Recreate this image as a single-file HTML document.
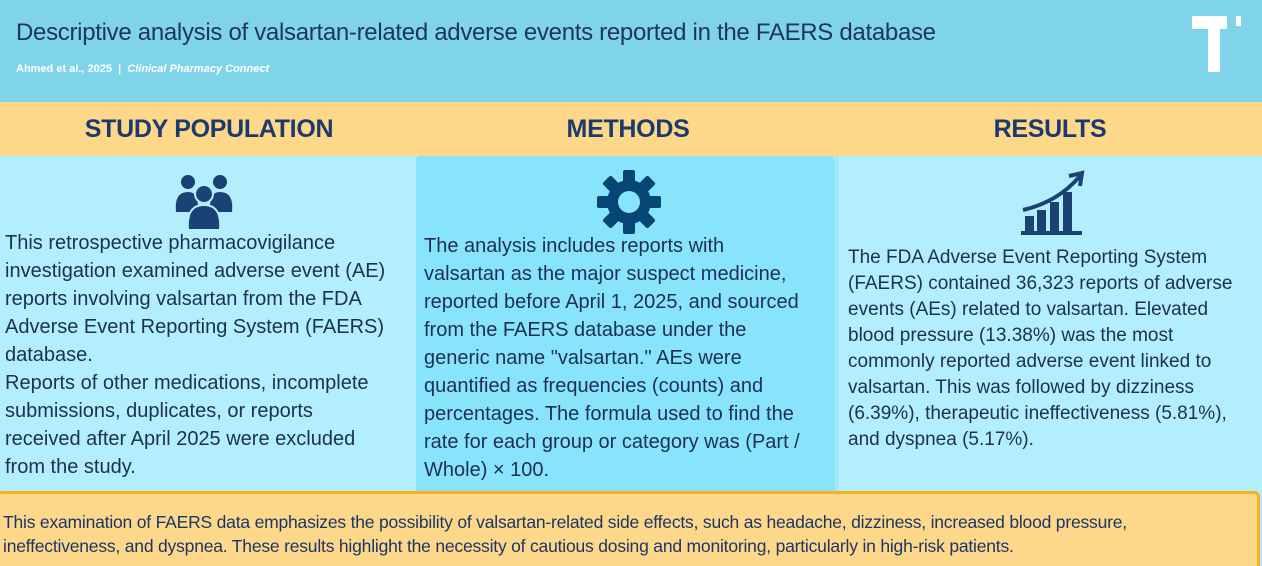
<!DOCTYPE html>
<html style="width:1262px;height:566px;overflow:hidden"><head><meta charset="utf-8"><style>
*{margin:0;padding:0;box-sizing:border-box}
body{width:1262px;height:566px;overflow:hidden;position:relative;background:#b2eefc;font-family:"Liberation Sans",sans-serif;color:#1d3566}
.abs{position:absolute}
.line{position:absolute;white-space:nowrap}
h2{position:absolute;top:115px;font-size:25px;font-weight:bold;color:#1d3a6e;text-align:center;letter-spacing:-0.3px}
.txt{position:absolute;font-size:20px;line-height:28px;white-space:nowrap;color:#1d2f55}
</style></head><body>
<div class="abs" style="left:0;top:0;width:1262px;height:102px;background:#80d4ea"></div>
<div class="line" style="left:16px;top:19px;font-size:24px;color:#1d3566;letter-spacing:-0.3px">Descriptive analysis of valsartan-related adverse events reported in the FAERS database</div>
<div class="line" style="left:16px;top:63px;font-size:11px;color:#fff;font-weight:bold">Ahmed et al., 2025 &nbsp;|&nbsp; <i>Clinical Pharmacy Connect</i></div>
<svg class="abs" style="left:1190px;top:14px" width="56" height="60"><rect x="2" y="2" width="35" height="13" fill="#fff"/><rect x="18" y="2" width="12" height="56" fill="#fff"/><rect x="46" y="2" width="5" height="10" fill="#fff"/></svg>
<div class="abs" style="left:0;top:102px;width:1262px;height:54px;background:#fdd88b"></div>
<h2 style="left:0;width:418px">STUDY POPULATION</h2>
<h2 style="left:418px;width:420px">METHODS</h2>
<h2 style="left:838px;width:424px">RESULTS</h2>
<div class="abs" style="left:416px;top:156px;width:419px;height:338px;background:#88e4fb;border-radius:4px"></div>
<div class="abs" style="left:836px;top:156px;width:2px;height:338px;background:#9ae8fb"></div>
<svg class="abs" style="left:170px;top:172px" width="68" height="60" viewBox="0 0 68 60"><g fill="#1b4275"><circle cx="18" cy="10" r="7"/><circle cx="50" cy="10" r="7"/><path d="M6 40 Q4 20 18 20 Q28 20 28 34 L28 40Z"/><path d="M62 40 Q64 20 50 20 Q40 20 40 34 L40 40Z"/><circle cx="34" cy="22" r="9" stroke="#b2eefc" stroke-width="2"/><path d="M18 58 Q16 33 34 33 Q52 33 50 58Z" stroke="#b2eefc" stroke-width="2"/></g></svg>
<svg class="abs" style="left:597px;top:170px" width="64" height="64" viewBox="-32 -32 64 64"><g fill="#074574"><circle r="22"/><g id="t"><rect x="-6" y="-32" width="12" height="14" rx="2"/></g><use href="#t" transform="rotate(45)"/><use href="#t" transform="rotate(90)"/><use href="#t" transform="rotate(135)"/><use href="#t" transform="rotate(180)"/><use href="#t" transform="rotate(225)"/><use href="#t" transform="rotate(270)"/><use href="#t" transform="rotate(315)"/></g><circle r="11" fill="#88e4fb"/></svg>
<svg class="abs" style="left:1020px;top:170px" width="66" height="66"><g fill="#1b4275"><rect x="5" y="46" width="9" height="16"/><rect x="17" y="40" width="9" height="22"/><rect x="30" y="32" width="9" height="30"/><rect x="43" y="22" width="9" height="40"/><rect x="1" y="61" width="61" height="4"/></g><path d="M3 40 Q38 32 60 6" stroke="#1b4275" stroke-width="4" fill="none"/><path d="M49 6 L62 3 L60 16" stroke="#1b4275" stroke-width="4" fill="none"/></svg>
<div class="txt" style="left:5px;top:229px">This retrospective pharmacovigilance<br>investigation examined adverse event (AE)<br>reports involving valsartan from the FDA<br>Adverse Event Reporting System (FAERS)<br>database.<br>Reports of other medications, incomplete<br>submissions, duplicates, or reports<br>received after April 2025 were excluded<br>from the study.</div>
<div class="txt" style="left:424px;top:232px">The analysis includes reports with<br>valsartan as the major suspect medicine,<br>reported before April 1, 2025, and sourced<br>from the FAERS database under the<br>generic name "valsartan." AEs were<br>quantified as frequencies (counts) and<br>percentages. The formula used to find the<br>rate for each group or category was (Part /<br>Whole) × 100.</div>
<div class="txt" style="left:848px;top:245px;font-size:19px;line-height:26px">The FDA Adverse Event Reporting System<br>(FAERS) contained 36,323 reports of adverse<br>events (AEs) related to valsartan. Elevated<br>blood pressure (13.38%) was the most<br>commonly reported adverse event linked to<br>valsartan. This was followed by dizziness<br>(6.39%), therapeutic ineffectiveness (5.81%),<br>and dyspnea (5.17%).</div>
<div class="abs" style="left:-4px;top:491px;width:1264px;height:75px;background:#fdd88b;border:3px solid #f8b21a;border-bottom:none;border-radius:6px 6px 0 0"></div>
<div class="txt" style="left:3px;top:510px;font-size:17.5px;line-height:24px;color:#1d3566;letter-spacing:-0.2px">This examination of FAERS data emphasizes the possibility of valsartan-related side effects, such as headache, dizziness, increased blood pressure,<br>ineffectiveness, and dyspnea. These results highlight the necessity of cautious dosing and monitoring, particularly in high-risk patients.</div>
</body></html>
